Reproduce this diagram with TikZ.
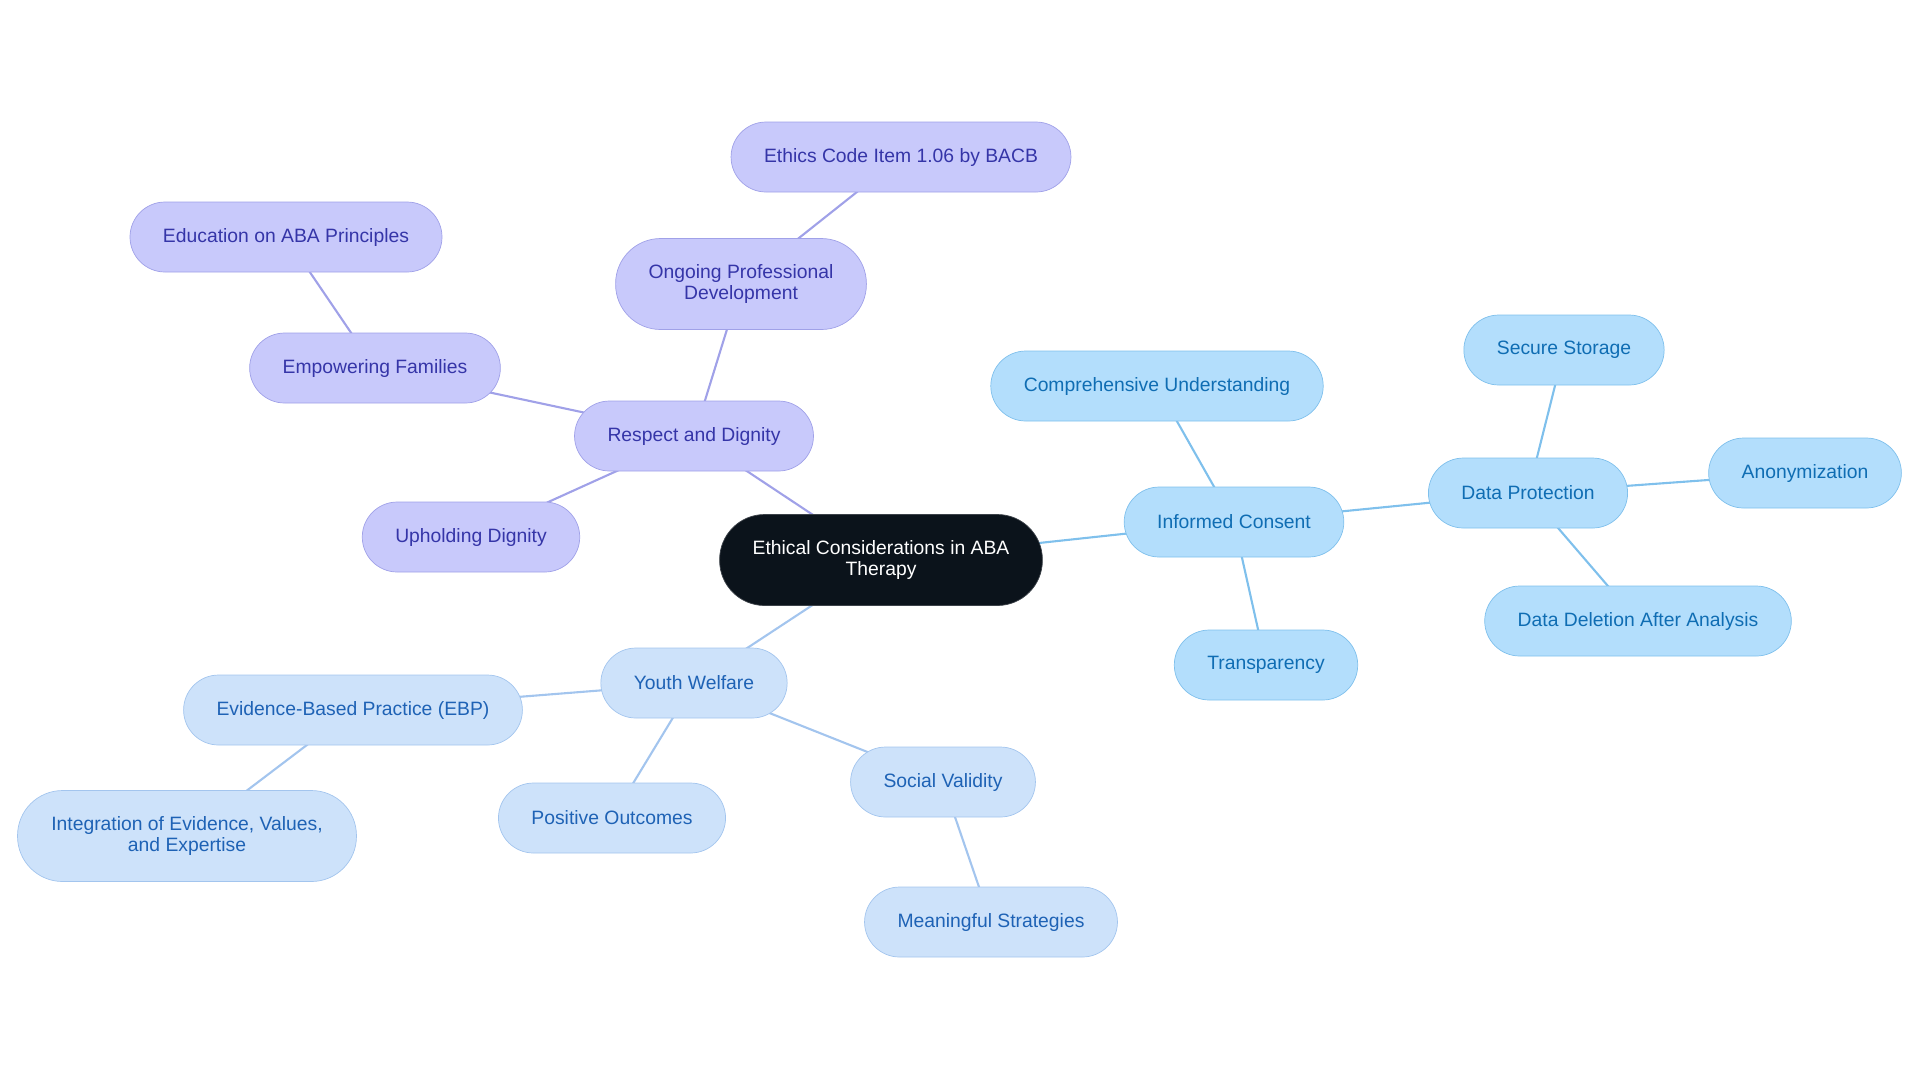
\documentclass[tikz,border=0pt]{standalone}
\usepackage{fontspec}
\setmainfont{Liberation Sans}
\usepackage{xcolor}
\usepackage{tikz}
\usetikzlibrary{positioning, backgrounds}
\definecolor{rootfill}{HTML}{0B131B}
\definecolor{purfill}{HTML}{C8C9FB}
\definecolor{purline}{HTML}{A0A1E8}
\definecolor{purtext}{HTML}{3535A8}
\definecolor{bluefill}{HTML}{B3DEFC}
\definecolor{blueline}{HTML}{7FC0EC}
\definecolor{bluetext}{HTML}{0F6DB3}
\definecolor{skyfill}{HTML}{CDE2FA}
\definecolor{skyline}{HTML}{A3C5EE}
\definecolor{skytext}{HTML}{1E62B5}
\tikzset{
    idea/.style={rectangle, rounded corners=0.7cm, minimum height=1.4cm, inner xsep=0.66cm, align=center, font=\fontsize{11}{12.5}\selectfont},
    twoline/.style={minimum height=1.82cm, rounded corners=0.9cm},
    centre/.style={idea, twoline, fill=rootfill, draw=rootfill!80!white, text=white, minimum width=6.44cm},
    respect/.style={idea, fill=purfill, draw=purline, text=purtext},
    consent/.style={idea, fill=bluefill, draw=blueline, text=bluetext},
    welfare/.style={idea, fill=skyfill, draw=skyline, text=skytext},
    purlink/.style={draw=purline, line width=1.2pt},
    bluelink/.style={draw=blueline, line width=1.2pt},
    skylink/.style={draw=skyline, line width=1.2pt}
}
\begin{document}
\begin{tikzpicture}[x=0.02cm, y=-0.02cm]
    \useasboundingbox (0,0) rectangle (1920,1083);
    % centre
    \node (root) [centre] at (881,560) {Ethical Considerations in ABA\\Therapy};
    % respect and dignity branch
    \node (resp) [respect] at (694,436) {Respect and Dignity};
    \node (prof) [respect, twoline, minimum width=4.98cm] at (741,284) {Ongoing Professional\\Development};
    \node (code) [respect] at (901,157) {Ethics Code Item 1.06 by BACB};
    \node (fam) [respect] at (375,368) {Empowering Families};
    \node (edu) [respect] at (286,237) {Education on ABA Principles};
    \node (uphold) [respect] at (471,537) {Upholding Dignity};
    % informed consent branch
    \node (inf) [consent] at (1234,522) {Informed Consent};
    \node (comp) [consent] at (1157,386) {Comprehensive Understanding};
    \node (trans) [consent] at (1266,665) {Transparency};
    \node (data) [consent] at (1528,493) {Data Protection};
    \node (store) [consent] at (1564,350) {Secure Storage};
    \node (anon) [consent] at (1805,473) {Anonymization};
    \node (del) [consent] at (1638,621) {Data Deletion After Analysis};
    % youth welfare branch
    \node (youth) [welfare] at (694,683) {Youth Welfare};
    \node (ebp) [welfare] at (353,710) {Evidence-Based Practice (EBP)};
    \node (integ) [welfare, twoline, minimum width=6.78cm] at (187,836) {Integration of Evidence, Values,\\and Expertise};
    \node (pos) [welfare] at (612,818) {Positive Outcomes};
    \node (social) [welfare] at (943,782) {Social Validity};
    \node (mean) [welfare] at (991,922) {Meaningful Strategies};

    % links, centre to centre, behind the nodes
    \begin{scope}[on background layer]
    \draw [purlink] (root.center) -- (resp.center);
    \draw [purlink] (resp.center) -- (prof.center);
    \draw [purlink] (prof.center) -- (code.center);
    \draw [purlink] (resp.center) -- (fam.center);
    \draw [purlink] (fam.center) -- (edu.center);
    \draw [purlink] (resp.center) -- (uphold.center);
    \draw [bluelink] (root.center) -- (inf.center);
    \draw [bluelink] (inf.center) -- (comp.center);
    \draw [bluelink] (inf.center) -- (trans.center);
    \draw [bluelink] (inf.center) -- (data.center);
    \draw [bluelink] (data.center) -- (store.center);
    \draw [bluelink] (data.center) -- (anon.center);
    \draw [bluelink] (data.center) -- (del.center);
    \draw [skylink] (root.center) -- (youth.center);
    \draw [skylink] (youth.center) -- (ebp.center);
    \draw [skylink] (ebp.center) -- (integ.center);
    \draw [skylink] (youth.center) -- (pos.center);
    \draw [skylink] (youth.center) -- (social.center);
    \draw [skylink] (social.center) -- (mean.center);
    \end{scope}
\end{tikzpicture}
\end{document}
